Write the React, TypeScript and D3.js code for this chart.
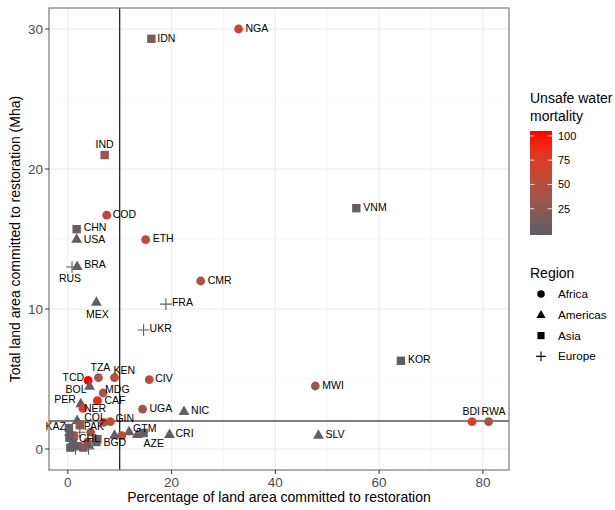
import React from "react";
import * as d3 from "d3";

// ---- data ----
const codes = [
  "NGA","IDN","IND","COD","CHN","USA","ETH","BRA","RUS","CMR","MEX","FRA","UKR","VNM","KOR","MWI","SLV","BDI","RWA",
  "TCD","TZA","KEN","CIV","BOL","MDG","CAF","PER","NER","UGA","NIC","COL","GIN","PAK","KAZ","CHL","BGD","GTM","AZE","CRI",
  "","","","","","","","","","","","","","","","","","",
];
const regions = [
  "Africa","Asia","Asia","Africa","Asia","Americas","Africa","Americas","Europe","Africa","Americas","Europe","Europe","Asia","Asia","Africa","Americas","Africa","Africa",
  "Africa","Africa","Africa","Africa","Americas","Africa","Africa","Americas","Africa","Africa","Americas","Americas","Africa","Asia","Asia","Americas","Asia","Americas","Asia","Americas",
  "Africa","Africa","Africa","Africa","Africa","Americas","Americas","Americas","Asia","Asia","Asia","Asia","Asia","Asia","Europe","Europe","Europe","Americas",
];
const pctLand = [
  32.9,16.1,7.1,7.5,1.7,1.7,15.0,1.8,0.8,25.6,5.5,18.9,14.6,55.6,64.2,47.7,48.3,77.9,81.1,
  3.9,5.9,9.0,15.7,4.2,6.8,5.7,2.5,2.9,14.4,22.4,1.8,8.2,2.3,0.2,1.0,5.7,11.8,14.6,19.6,
  6.9,1.2,4.4,3.8,10.4,9.0,13.4,4.0,0.5,1.0,0.3,2.0,3.0,5.5,1.5,4.0,2.3,0.3,
];
const areaMha = [
  30.0,29.3,21.0,16.7,15.7,15.0,14.95,13.05,13.0,12.0,10.5,10.35,8.5,17.2,6.3,4.5,1.0,1.95,1.95,
  4.9,5.1,5.1,4.95,4.5,4.0,3.45,3.25,2.9,2.85,2.7,2.05,1.95,1.7,1.5,0.9,0.7,1.25,1.15,1.05,
  1.9,0.95,1.2,0.5,0.95,1.0,1.05,0.3,0.1,0.4,0.8,0.2,0.1,0.5,0.0,0.0,1.2,1.2,
];
const mortality = [
  68,18,32,62,8,1,55,3,1,50,2,0,1,6,1,35,4,70,40,
  101,42,50,58,4,38,90,2,70,40,4,2,55,28,1,0,18,8,2,1,
  60,55,45,75,60,5,5,3,2,3,4,5,20,3,0,1,1,2,
];
const xTicks = [0, 20, 40, 60, 80];
const yTicks = [0, 10, 20, 30];
const colorTicks = [25, 50, 75, 100];
const regionNames = ["Africa", "Americas", "Asia", "Europe"];

// label placement (style only): [dx, dy, anchor]
const labelPos: Record<string, [number, number, string]> = {
  NGA: [7, -1, "start"], IDN: [6, 0, "start"], IND: [0, -11, "middle"], COD: [6, -1, "start"],
  CHN: [7, -2, "start"], USA: [7, 0, "start"], ETH: [7, -1, "start"], BRA: [7, -2, "start"],
  RUS: [-2, 11, "middle"], CMR: [7, -1, "start"], MEX: [1, 12, "middle"], FRA: [6, -2, "start"],
  UKR: [6, -2, "start"], VNM: [7, -1, "start"], KOR: [7, -1, "start"], MWI: [7, -1, "start"],
  SLV: [7, -1, "start"], BDI: [8, -10, "end"], RWA: [-7, -10, "start"],
  TCD: [-4, -3, "end"], TZA: [2, -10, "middle"], KEN: [-1, -7, "start"], CIV: [6, -1, "start"],
  BOL: [-3, 3, "end"], MDG: [2, -4, "start"], CAF: [7, 0, "start"], PER: [-5, -4, "end"],
  NER: [1, 0, "start"], UGA: [7, -1, "start"], NIC: [7, -1, "start"], COL: [7, -3, "start"],
  GIN: [5, -3, "start"], PAK: [4, 1, "start"], KAZ: [-3, -2, "end"], CHL: [6, 2, "start"],
  BGD: [6, 3, "start"], GTM: [4, -3, "start"], AZE: [0, 10, "start"], CRI: [6, -1, "start"],
};

const W = 615, H = 510;
const P = { left: 49, right: 509, top: 8, bottom: 470 };
const FONT = "'Liberation Sans', Arial, Helvetica, sans-serif";

const x = d3.scaleLinear().domain([-3.63, 85.03]).range([P.left, P.right]);
const y = d3.scaleLinear().domain([-1.5, 31.5]).range([P.bottom, P.top]);
const color = d3
  .scaleLinear<string>()
  .domain([0, 100])
  .range(["#5c5d68", "#ff0000"])
  .interpolate(d3.interpolateLab)
  .clamp(true);

const legendBar = { x: 530, y0: 131, y1: 235, w: 22 };
const cScale = d3.scaleLinear().domain([-2, 105]).range([legendBar.y1, legendBar.y0]);

function Shape({ region, cx, cy, fill, k = 1 }: { region: string; cx: number; cy: number; fill: string; k?: number }) {
  if (region === "Africa") return <circle cx={cx} cy={cy} r={4.4 * k} fill={fill} />;
  if (region === "Americas") {
    const s = 5.7 * k;
    return (
      <path
        d={`M${cx},${cy - s}L${cx + s * 0.95},${cy + s * 0.65}L${cx - s * 0.95},${cy + s * 0.65}Z`}
        fill={fill}
      />
    );
  }
  if (region === "Asia") {
    const h = 4.2 * k;
    return <rect x={cx - h} y={cy - h} width={2 * h} height={2 * h} fill={fill} />;
  }
  const h = 5.8 * k;
  return (
    <path
      d={`M${cx - h},${cy}H${cx + h}M${cx},${cy - h}V${cy + h}`}
      stroke={fill}
      strokeWidth={1.1}
      fill="none"
    />
  );
}

export default function App() {
  const xMinor = [10, 30, 50, 70];
  const yMinor = [5, 15, 25];
  const pts = codes.map((c, i) => ({
    code: c,
    region: regions[i],
    px: x(pctLand[i]),
    py: y(areaMha[i]),
    fill: color(mortality[i]),
  }));
  return (
    <svg
      width={W}
      height={H}
      style={{ position: "absolute", left: 0, top: 0, background: "#fff" }}
      fontFamily={FONT}
    >
      <defs>
        <linearGradient id="grad" x1="0" y1="1" x2="0" y2="0">
          {d3.range(0, 11).map((k) => {
            const v = cScale.invert(legendBar.y1 - (k / 10) * (legendBar.y1 - legendBar.y0));
            return <stop key={k} offset={`${k * 10}%`} stopColor={color(v)} />;
          })}
        </linearGradient>
      </defs>
      <rect width={W} height={H} fill="#fff" />
      {/* grid */}
      {xMinor.map((v) => (
        <line key={"xm" + v} x1={x(v)} x2={x(v)} y1={P.top} y2={P.bottom} stroke="#f2f2f2" strokeWidth={0.6} />
      ))}
      {yMinor.map((v) => (
        <line key={"ym" + v} y1={y(v)} y2={y(v)} x1={P.left} x2={P.right} stroke="#f2f2f2" strokeWidth={0.6} />
      ))}
      {xTicks.map((v) => (
        <line key={"xg" + v} x1={x(v)} x2={x(v)} y1={P.top} y2={P.bottom} stroke="#ebebeb" strokeWidth={1.1} />
      ))}
      {yTicks.map((v) => (
        <line key={"yg" + v} y1={y(v)} y2={y(v)} x1={P.left} x2={P.right} stroke="#ebebeb" strokeWidth={1.1} />
      ))}
      {/* reference lines */}
      <line x1={x(10)} x2={x(10)} y1={P.top} y2={P.bottom} stroke="#000" strokeWidth={1.1} />
      <line y1={y(2)} y2={y(2)} x1={P.left} x2={P.right} stroke="#000" strokeWidth={1.1} />
      {/* points */}
      {pts.map((p, i) => (
        <Shape key={i} region={p.region} cx={p.px} cy={p.py} fill={p.fill} />
      ))}
      {/* labels */}
      {pts
        .filter((p) => p.code)
        .map((p) => {
          const [dx, dy, anchor] = labelPos[p.code] || [6, 0, "start"];
          return (
            <text
              key={"l" + p.code}
              x={p.px + dx}
              y={p.py + dy}
              dy="0.35em"
              textAnchor={anchor}
              fontSize={10.5}
              fill="#000"
            >
              {p.code}
            </text>
          );
        })}
      {/* border */}
      <rect
        x={P.left}
        y={P.top}
        width={P.right - P.left}
        height={P.bottom - P.top}
        fill="none"
        stroke="#6e6e6e"
        strokeWidth={1.1}
      />
      {/* axes */}
      {xTicks.map((v) => (
        <g key={"xt" + v}>
          <line x1={x(v)} x2={x(v)} y1={P.bottom} y2={P.bottom + 4} stroke="#333" strokeWidth={1} />
          <text x={x(v)} y={P.bottom + 17} textAnchor="middle" fontSize={13.5} fill="#4d4d4d">
            {v}
          </text>
        </g>
      ))}
      {yTicks.map((v) => (
        <g key={"yt" + v}>
          <line x1={P.left - 4} x2={P.left} y1={y(v)} y2={y(v)} stroke="#333" strokeWidth={1} />
          <text x={P.left - 6} y={y(v)} dy="0.35em" textAnchor="end" fontSize={13.5} fill="#4d4d4d">
            {v}
          </text>
        </g>
      ))}
      <text x={(P.left + P.right) / 2} y={502} textAnchor="middle" fontSize={14} fill="#000">
        Percentage of land area committed to restoration
      </text>
      <text
        transform={`translate(20,${(P.top + P.bottom) / 2}) rotate(-90)`}
        textAnchor="middle"
        fontSize={14}
        fill="#000"
      >
        Total land area committed to restoration (Mha)
      </text>
      {/* colour legend */}
      <text x={530} y={103} fontSize={14} fill="#000">Unsafe water</text>
      <text x={530} y={121} fontSize={14} fill="#000">mortality</text>
      <rect x={legendBar.x} y={legendBar.y0} width={legendBar.w} height={legendBar.y1 - legendBar.y0} fill="url(#grad)" />
      {colorTicks.map((v) => (
        <g key={"ct" + v}>
          <line x1={legendBar.x} x2={legendBar.x + 4.4} y1={cScale(v)} y2={cScale(v)} stroke="#fff" strokeWidth={0.8} />
          <line
            x1={legendBar.x + legendBar.w - 4.4}
            x2={legendBar.x + legendBar.w}
            y1={cScale(v)}
            y2={cScale(v)}
            stroke="#fff"
            strokeWidth={0.8}
          />
          <text x={legendBar.x + legendBar.w + 6} y={cScale(v)} dy="0.35em" fontSize={11} fill="#000">
            {v}
          </text>
        </g>
      ))}
      {/* region legend */}
      <text x={530} y={278} fontSize={14} fill="#000">Region</text>
      {regionNames.map((r, i) => {
        const cy = 294 + i * 20.8;
        return (
          <g key={r}>
            <Shape region={r} cx={541} cy={cy} fill="#000" k={0.85} />
            <text x={558} y={cy} dy="0.35em" fontSize={11.7} fill="#000">
              {r}
            </text>
          </g>
        );
      })}
    </svg>
  );
}
